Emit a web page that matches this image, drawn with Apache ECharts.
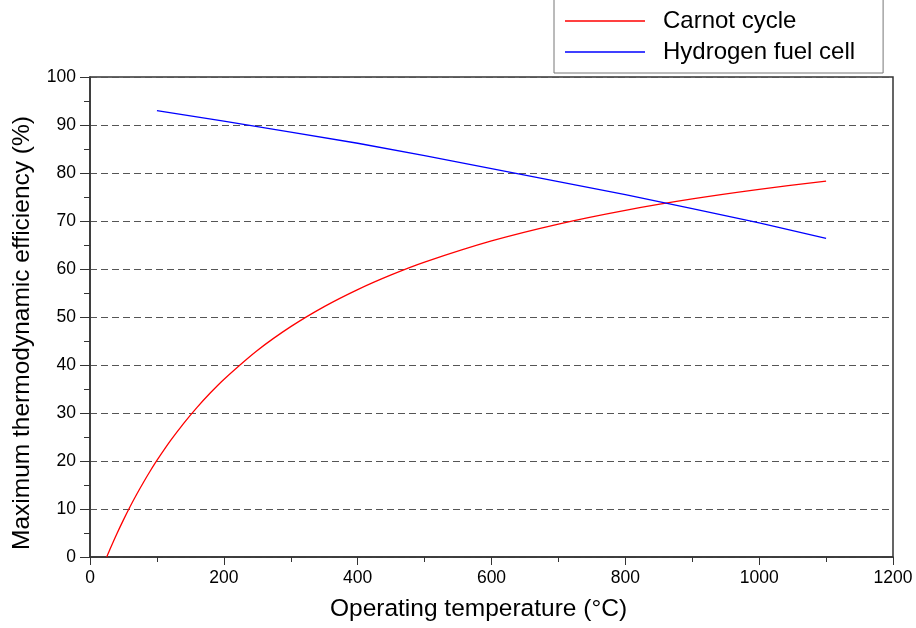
<!DOCTYPE html>
<html>
<head>
<meta charset="utf-8">
<script src="https://cdn.jsdelivr.net/npm/echarts@6/dist/echarts.min.js"></script>
<style>
  html, body { margin: 0; padding: 0; background: #fff; }
  #main { width: 916px; height: 628px; }
</style>
</head>
<body>
<div id="main"></div>
<script>
// values
const carnotTemp = [25, 30, 40, 50, 60, 70, 80, 90, 100, 120, 140, 160, 180, 200, 250, 300, 350, 400, 450, 500, 600, 700, 800, 900, 1000, 1100];
const carnotEff = [0, 1.65, 4.79, 7.74, 10.51, 13.12, 15.58, 17.91, 20.11, 24.17, 27.85, 31.18, 34.22, 37.0, 43.02, 47.99, 52.17, 55.72, 58.78, 61.45, 65.86, 69.37, 72.23, 74.6, 76.59, 78.3];

const fuelTemp = [100, 200, 300, 400, 500, 600, 700, 800, 900, 1000, 1100];
const fuelEff = [93.0, 90.8, 88.5, 86.2, 83.6, 80.9, 78.2, 75.5, 72.6, 69.6, 66.4];

const xTicks = [0, 200, 400, 600, 800, 1000, 1200];
const yTicks = [0, 10, 20, 30, 40, 50, 60, 70, 80, 90, 100];

const pairs = (xs, ys) => xs.map((x, i) => [x, ys[i]]);

const chart = echarts.init(document.getElementById('main'), null, { renderer: 'canvas' });
const font = 'Liberation Sans, Arial, sans-serif';

chart.setOption({
  animation: false,
  textStyle: { fontFamily: font },
  grid: {
    left: 90, right: 23, top: 77, bottom: 71,
    show: true, borderColor: '#333', borderWidth: 1.5
  },
  legend: {
    orient: 'vertical',
    left: 554, top: -1,
    padding: [9, 28, 8, 11],
    itemGap: 5,
    itemWidth: 80, itemHeight: 1.5,
    icon: 'rect',
    borderColor: '#777', borderWidth: 1,
    backgroundColor: '#fff',
    textStyle: { fontSize: 24, color: '#000', lineHeight: 26, padding: [0, 0, 0, 13], fontFamily: font },
    data: ['Carnot cycle', 'Hydrogen fuel cell']
  },
  xAxis: {
    type: 'value',
    min: 0, max: 1200, interval: 200,
    name: 'Operating temperature (°C)',
    nameLocation: 'middle', nameGap: 40,
    nameTextStyle: { fontSize: 24.5, color: '#000', fontFamily: font, padding: [0, 26, 0, 0] },
    axisLine: { lineStyle: { color: '#333', width: 1.5 } },
    axisTick: { length: 8, lineStyle: { color: '#333' } },
    minorTick: { show: true, splitNumber: 2, length: 5, lineStyle: { color: '#333' } },
    axisLabel: { fontSize: 17.5, color: '#000', margin: 12,
      formatter: v => xTicks.includes(v) ? String(v) : '' },
    splitLine: { show: false }
  },
  yAxis: {
    type: 'value',
    min: 0, max: 100, interval: 10,
    name: 'Maximum thermodynamic efficiency (%)',
    nameLocation: 'middle', nameGap: 55,
    nameTextStyle: { fontSize: 24.5, color: '#000', fontFamily: font, padding: [0, 32, 0, 0] },
    axisLine: { show: true, lineStyle: { color: '#333', width: 1.5 } },
    axisTick: { show: true, length: 10, lineStyle: { color: '#333' } },
    minorTick: { show: true, splitNumber: 2, length: 6, lineStyle: { color: '#333' } },
    axisLabel: { fontSize: 17.5, color: '#000', margin: 14,
      formatter: v => yTicks.includes(v) ? String(v) : '' },
    splitLine: { show: true, lineStyle: { color: '#555', type: [7, 4], width: 1 } }
  },
  series: [
    {
      name: 'Carnot cycle',
      type: 'line',
      data: pairs(carnotTemp, carnotEff),
      smooth: 0.3,
      symbol: 'none',
      lineStyle: { color: '#ff0000', width: 1.3 },
      itemStyle: { color: '#ff0000' }
    },
    {
      name: 'Hydrogen fuel cell',
      type: 'line',
      data: pairs(fuelTemp, fuelEff),
      symbol: 'none',
      lineStyle: { color: '#0000ff', width: 1.3 },
      itemStyle: { color: '#0000ff' }
    }
  ]
});
</script>
</body>
</html>
